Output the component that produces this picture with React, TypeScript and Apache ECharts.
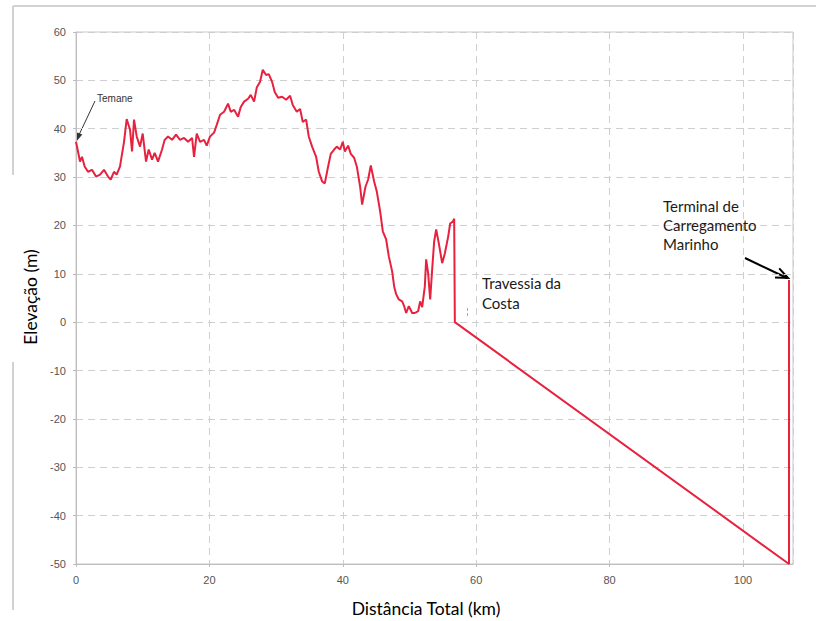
import React, { useEffect, useRef } from "react";
import * as echarts from "echarts";

const distKm = [
  0, 0.3, 0.6, 0.9, 1.3, 1.8, 2.4, 3.0, 3.6, 4.2, 4.8, 5.2, 5.7, 6.1, 6.6, 7.2, 7.6, 8.1, 8.4, 8.7,
  9.1, 9.6, 10.0, 10.5, 10.9, 11.4, 11.8, 12.3, 12.9, 13.3, 13.8, 14.4, 15.0, 15.6, 16.2, 16.8, 17.4, 17.7, 18.1, 18.6,
  19.2, 19.6, 20.1, 20.7, 21.1, 21.6, 22.2, 22.8, 23.2, 23.7, 24.3, 24.7, 25.2, 25.8, 26.2, 26.7, 27.1, 27.6, 28.0, 28.5,
  28.9, 29.4, 29.8, 30.3, 30.9, 31.5, 32.1, 32.5, 33.1, 33.6, 34.0, 34.5, 34.9, 35.4, 36.0, 36.4, 36.9, 37.3, 37.8, 38.2,
  38.7, 39.1, 39.6, 40.0, 40.3, 40.8, 41.2, 41.7, 42.1, 42.6, 42.9, 43.4, 43.8, 44.2, 44.7, 45.1, 45.6, 46.0, 46.5, 46.9,
  47.4, 47.7, 48.0, 48.4, 48.9, 49.2, 49.5, 49.9, 50.4, 50.8, 51.3, 51.6, 51.9, 52.3, 52.5, 52.8, 53.1, 53.4, 53.7, 54.0,
  54.4, 54.9, 55.3, 55.8, 56.1, 56.5, 56.7, 56.8, 106.9, 106.9,
];
const elevM = [
  37.3, 35.3, 33.2, 34.2, 32.2, 31.1, 31.5, 30.1, 30.5, 31.5, 30.1, 29.5, 31.1, 30.5, 32.2, 37.3, 42.0, 39.8, 35.3, 41.9,
  38.4, 36.3, 39.0, 33.2, 35.7, 33.6, 35.0, 33.2, 35.7, 37.7, 38.4, 37.7, 38.8, 37.7, 38.1, 37.3, 38.1, 34.2, 39.0, 37.3,
  37.7, 36.5, 38.4, 39.2, 40.8, 42.9, 43.5, 45.2, 43.5, 43.9, 42.5, 44.5, 45.6, 46.2, 47.0, 45.6, 48.5, 49.7, 52.2, 51.1,
  51.3, 49.7, 47.6, 46.4, 46.6, 46.0, 46.8, 44.9, 43.5, 44.1, 41.4, 41.9, 38.4, 36.3, 34.2, 31.1, 29.1, 28.7, 32.2, 34.8,
  35.7, 36.3, 35.7, 37.3, 35.3, 36.5, 34.8, 34.0, 32.2, 28.0, 24.3, 28.0, 29.5, 32.4, 29.1, 27.0, 22.9, 18.8, 17.1, 13.6,
  10.5, 7.4, 5.8, 4.7, 4.3, 3.3, 1.9, 3.3, 1.9, 1.9, 2.3, 4.3, 3.1, 7.4, 13.0, 10.1, 4.7, 10.9, 16.7, 19.2,
  16.3, 12.2, 14.2, 17.7, 20.4, 20.8, 21.4, 0, -50, 8.7,
];

const yTicks = { min: -50, max: 60, interval: 10 };
const xTicks = { min: 0, max: 107.5, interval: 20 };

const yTitle = "Elevação (m)";
const xTitle = "Distância Total (km)";
const labelTemane = "Temane";
const labelCosta = "Travessia da\nCosta";
const labelTerminal = "Terminal de\nCarregamento\nMarinho";

export default function App() {
  const ref = useRef<HTMLDivElement>(null);
  useEffect(() => {
    if (!ref.current) return;
    const chart = echarts.init(ref.current, null, { renderer: "svg" });
    const data = distKm.map((x, i) => [x, elevM[i]]);
    const frame = "#d2d2d2";
    chart.setOption({
      animation: false,
      backgroundColor: "#ffffff",
      grid: {
        left: 76,
        right: 23,
        top: 32,
        bottom: 57,
        show: true,
        borderColor: "#c8c8c8",
        borderWidth: 1,
        containLabel: false,
      },
      xAxis: {
        type: "value",
        min: xTicks.min,
        max: xTicks.max,
        interval: xTicks.interval,
        axisLine: { show: true, onZero: false, lineStyle: { color: "#bdbdbd", width: 1 } },
        axisTick: { show: true, length: 3, lineStyle: { color: "#bdbdbd" } },
        axisLabel: {
          showMaxLabel: false,
          margin: 10,
          color: "#555",
          fontFamily: "Liberation Sans",
          fontSize: 11,
        },
        splitLine: { show: true, lineStyle: { color: "#cfcfcf", type: [7, 5], width: 1 } },
      },
      yAxis: {
        type: "value",
        min: yTicks.min,
        max: yTicks.max,
        interval: yTicks.interval,
        axisLine: { show: true, lineStyle: { color: "#bdbdbd", width: 1 } },
        axisTick: { show: true, length: 3, lineStyle: { color: "#bdbdbd" } },
        axisLabel: {
          margin: 10,
          color: "#555",
          fontFamily: "Liberation Sans",
          fontSize: 11,
        },
        splitLine: { show: true, lineStyle: { color: "#cfcfcf", type: [7, 5], width: 1 } },
      },
      series: [
        {
          type: "line",
          data,
          showSymbol: false,
          symbol: "none",
          lineStyle: { color: "#e8213f", width: 2 },
          z: 5,
        },
      ],
      graphic: [
        { type: "line", shape: { x1: 13, y1: 6, x2: 816, y2: 6 }, style: { stroke: frame, lineWidth: 2 } },
        { type: "line", shape: { x1: 13, y1: 6, x2: 13, y2: 175 }, style: { stroke: frame, lineWidth: 2 } },
        { type: "line", shape: { x1: 13, y1: 362, x2: 13, y2: 610 }, style: { stroke: frame, lineWidth: 2 } },
        {
          type: "text",
          x: 30,
          y: 297,
          rotation: Math.PI / 2,
          style: {
            text: yTitle,
            fill: "#000",
            font: "17.5px Lato",
            align: "center",
            verticalAlign: "middle",
          },
        },
        {
          type: "text",
          x: 426,
          y: 608,
          style: {
            text: xTitle,
            fill: "#000",
            font: "17.5px Lato",
            align: "center",
            verticalAlign: "middle",
          },
        },
        {
          type: "text",
          x: 97,
          y: 98,
          style: {
            text: labelTemane,
            fill: "#333",
            font: "10px Liberation Sans",
            align: "left",
            verticalAlign: "middle",
          },
        },
        { type: "line", shape: { x1: 95, y1: 101, x2: 78, y2: 137 }, style: { stroke: "#333", lineWidth: 1 } },
        {
          type: "polygon",
          shape: { points: [[76, 142], [82.3, 134.6], [76.3, 132.2]] },
          style: { fill: "#333" },
        },
        {
          type: "text",
          x: 482,
          y: 293,
          style: {
            text: labelCosta,
            fill: "#1a1a1a",
            font: "15px Lato",
            lineHeight: 20,
            align: "left",
            verticalAlign: "middle",
          },
          z: 10,
        },
        {
          type: "line",
          shape: { x1: 467.5, y1: 308, x2: 467.5, y2: 318 },
          style: { stroke: "#e0a040", lineWidth: 1, lineDash: [3, 2] },
        },
        {
          type: "text",
          x: 663,
          y: 225,
          style: {
            text: labelTerminal,
            fill: "#1a1a1a",
            font: "15px Lato",
            lineHeight: 19,
            align: "left",
            verticalAlign: "middle",
          },
          z: 10,
        },
        { type: "line", shape: { x1: 745, y1: 258, x2: 787, y2: 278 }, style: { stroke: "#000", lineWidth: 2 } },
        {
          type: "polyline",
          shape: { points: [[775.0, 277.4], [788, 278], [779.2, 268.4]] },
          style: { stroke: "#000", lineWidth: 2, fill: "none" },
        },
      ],
    });
    return () => chart.dispose();
  }, []);
  return (
    <div
      ref={ref}
      style={{ position: "absolute", left: 0, top: 0, width: 816, height: 621 }}
    />
  );
}
